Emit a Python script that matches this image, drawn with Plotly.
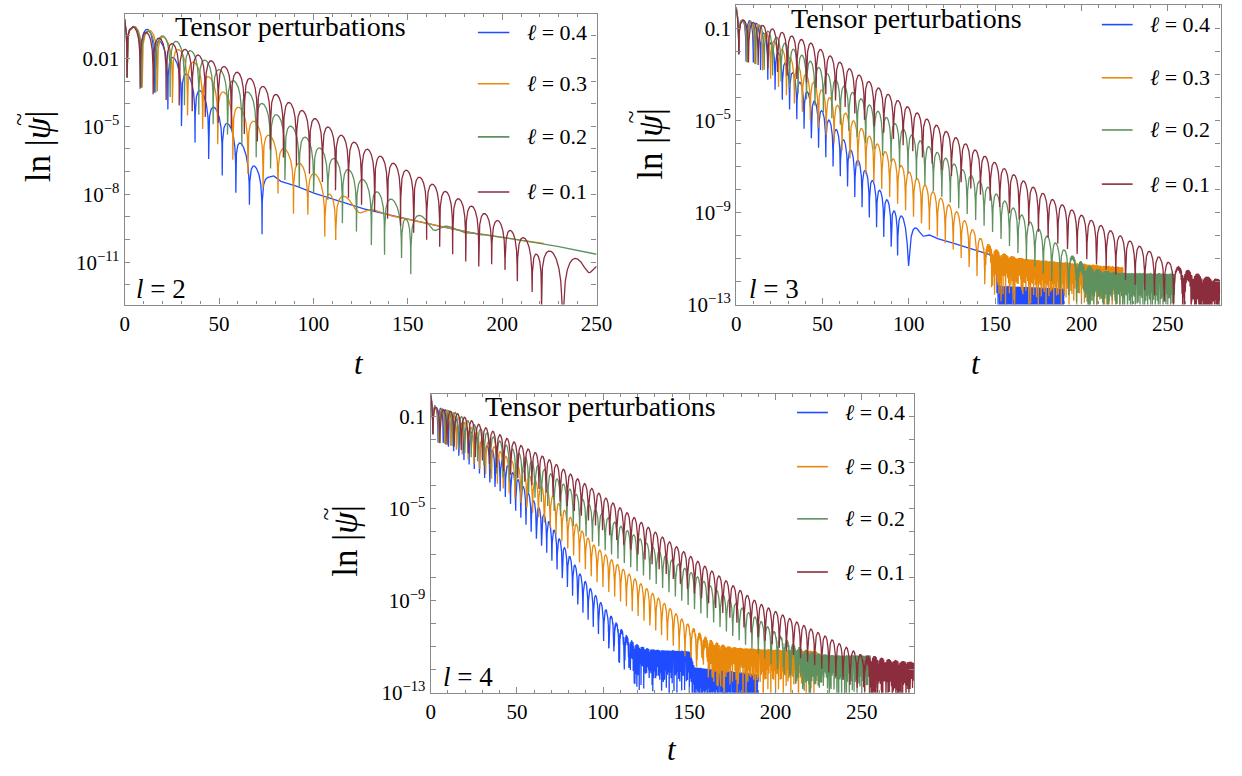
import numpy as np
import plotly.graph_objects as go

W, H = 1242, 776
DT = 0.05
NOISE_OMEGA = 38.83  # fast numerical-noise oscillation of the late-time tails

ELL_LABELS = ["0.4", "0.3", "0.2", "0.1"]
COLORS = ["#1f4cff", "#e8890c", "#5f915f", "#8b2d3d"]

# ---------------- panel l = 2 ----------------
A_T_END = [190, 222, 250, 250]
A_HALF_PERIOD = [7.2, 8.0, 7.6, 6.9]
A_FIRST_ZERO = [1.3, 1.3, 1.3, 1.3]
A_ENV_T = [[0, 3, 14, 46, 58, 67, 80, 190],
           [0, 3, 18, 39, 60, 88, 100, 130, 222],
           [0, 3, 26, 51, 93, 143, 175, 250],
           [0, 3, 30, 65, 100, 114, 166, 200, 221, 250]]
A_ENV_LOG = [[0.0, -0.55, -0.75, -4.0, -5.2, -6.5, -8.0, -18],
             [0.0, -0.55, -0.86, -2.32, -4.1, -6.25, -7.1, -9.4, -16],
             [0.0, -0.55, -1.16, -2.53, -5.3, -8.4, -10.4, -14],
             [0.0, -0.55, -1.52, -2.8, -4.6, -5.35, -7.68, -9.28, -10.58, -11.6]]
A_TAIL_T = [[0, 55, 79, 96, 122, 148, 183, 222, 249]] * 3 + [[0, 150, 200, 222, 249]]
A_TAIL_LOG = [[-20, -9.5, -7.25, -7.83, -8.55, -9.06, -9.71, -10.17, -10.65]] * 3 + \
             [[-20, -13, -10.6, -10.85, -11.2]]
A_NOISE_FROM = [None, None, None, None]
A_DIP_DEPTH = 2.6

# ---------------- panel l = 3 ----------------
B_T_END = [190, 224, 254, 280]
B_HALF_PERIOD = [4.2, 4.6, 4.9, 5.6]
B_FIRST_ZERO = [1.5, 1.5, 1.5, 1.5]
B_ENV_T = [[0, 3, 11, 34, 58.7, 77.6, 92.9, 115, 190],
           [0, 3, 12, 43, 89, 127, 140, 165, 224],
           [0, 3, 12, 43, 89, 146, 192, 215, 254],
           [0, 3, 12, 43, 89, 184, 241, 265, 285]]
B_ENV_LOG = [[0.0, -0.6, -0.67, -3.03, -5.45, -7.46, -9.0, -11.3, -19],
             [0.0, -0.6, -0.75, -3.17, -6.53, -8.89, -10.0, -12.0, -16],
             [0.0, -0.6, -0.75, -2.4, -4.96, -7.89, -10.75, -12.3, -15],
             [0.0, -0.6, -0.75, -1.6, -3.89, -8.46, -10.75, -11.8, -12.8]]
B_TAIL_T = [[0, 70, 93, 100, 146, 150, 153, 190],
            [0, 120, 146, 224],
            [0, 170, 194, 254],
            [0, 235, 258, 280]]
B_TAIL_LOG = [[-20, -12.5, -9.6, -9.73, -10.8, -11.0, -12.2, -12.3],
              [-20, -14, -10.9, -11.39],
              [-20, -14, -11.6, -11.67],
              [-20, -14, -11.96, -12.0]]
B_NOISE_FROM = [151, 0, 0, 0]
B_DIP_DEPTH = 1.8

# ---------------- panel l = 4 ----------------
C_T_END = [190, 224, 255, 280]
C_HALF_PERIOD = [3.0, 3.4, 3.7, 4.1]
C_FIRST_ZERO = [1.3, 1.3, 1.3, 1.3]
C_ENV_T = [[0, 3, 8, 42, 68.6, 87.6, 102.8, 125, 190],
           [0, 3, 12, 68.6, 95, 133, 150, 175, 224],
           [0, 3, 14, 68.6, 95, 152, 190, 215, 255],
           [0, 3, 14, 68.6, 95, 190, 228, 253, 280]]
C_ENV_LOG = [[0.0, -0.6, -0.65, -2.85, -5.54, -7.95, -9.5, -11.8, -18],
             [0.0, -0.6, -0.75, -4.26, -6.6, -8.94, -10.08, -11.8, -15],
             [0.0, -0.6, -0.8, -3.41, -5.0, -7.81, -9.8, -11.3, -14],
             [0.0, -0.6, -0.8, -2.85, -4.19, -9.09, -10.5, -11.5, -12.6]]
C_TAIL_T = [[0, 85, 104, 114, 150, 153, 190],
            [0, 130, 150, 224],
            [0, 175, 197, 255],
            [0, 235, 255, 280]]
C_TAIL_LOG = [[-20, -14, -10.6, -11.1, -11.2, -11.9, -12.2],
              [-20, -14, -11.0, -11.2],
              [-20, -14, -11.36, -11.4],
              [-20, -14, -11.7, -11.7]]
C_NOISE_FROM = [0, 0, 0, 0]
C_DIP_DEPTH = 1.5

# axis tick labels
X_TICKS = [0, 50, 100, 150, 200, 250]
A_Y_LABELLED = {-2: "0.01", -5: "10<sup>−5</sup>", -8: "10<sup>−8</sup>", -11: "10<sup>−11</sup>"}
BC_Y_LABELLED = {-1: "0.1", -5: "10<sup>−5</sup>", -9: "10<sup>−9</sup>", -13: "10<sup>−13</sup>"}


def build(t_end, half, t0, env_t, env_log, tail_t, tail_log, noise_from, depth):
    t = np.arange(0.0, t_end + DT / 2, DT)
    env = 10.0 ** np.interp(t, env_t, env_log)
    qnm = env * np.sin(np.pi * (t - t0) / half)
    tail = 10.0 ** np.interp(t, tail_t, tail_log)
    if noise_from is not None:
        s = np.where(t >= noise_from, np.sin(NOISE_OMEGA * t), 1.0)
    else:
        s = np.ones_like(t)
    y = np.abs(qnm + tail * s)
    y = np.maximum(y, env * 10.0 ** (-depth))
    y = np.maximum(y, 1e-15)
    return t, y


PANELS = [
    dict(x="x", y="y", T=A_T_END, P=A_HALF_PERIOD, Z=A_FIRST_ZERO, ET=A_ENV_T, EL=A_ENV_LOG,
         TT=A_TAIL_T, TL=A_TAIL_LOG, N=A_NOISE_FROM, D=A_DIP_DEPTH),
    dict(x="x2", y="y2", T=B_T_END, P=B_HALF_PERIOD, Z=B_FIRST_ZERO, ET=B_ENV_T, EL=B_ENV_LOG,
         TT=B_TAIL_T, TL=B_TAIL_LOG, N=B_NOISE_FROM, D=B_DIP_DEPTH),
    dict(x="x3", y="y3", T=C_T_END, P=C_HALF_PERIOD, Z=C_FIRST_ZERO, ET=C_ENV_T, EL=C_ENV_LOG,
         TT=C_TAIL_T, TL=C_TAIL_LOG, N=C_NOISE_FROM, D=C_DIP_DEPTH),
]

fig = go.Figure()
for p in PANELS:
    for i in range(4):
        t, y = build(p["T"][i], p["P"][i], p["Z"][i], p["ET"][i], p["EL"][i],
                     p["TT"][i], p["TL"][i], p["N"][i], p["D"])
        fig.add_trace(go.Scatter(x=t, y=y, mode="lines", xaxis=p["x"], yaxis=p["y"],
                                 line=dict(color=COLORS[i], width=1.3),
                                 showlegend=False, hoverinfo="skip"))

FRAME = "#8a8a8a"
FONT = "Liberation Serif, DejaVu Serif, serif"


def xax(domain, rng, anchor):
    return dict(domain=domain, range=rng, anchor=anchor, showline=True, linecolor=FRAME,
                linewidth=1.2, mirror="allticks", ticks="inside", ticklen=6, tickcolor=FRAME,
                tickvals=X_TICKS, ticktext=[str(v) for v in X_TICKS],
                minor=dict(dtick=10, ticks="inside", ticklen=3, tickcolor=FRAME),
                showgrid=False, zeroline=False,
                tickfont=dict(family=FONT, size=21, color="black"))


def yax(domain, rng, labelled, anchor):
    vals = [10.0 ** k for k in range(-13, 1)]
    txt = [labelled.get(k, "") for k in range(-13, 1)]
    return dict(type="log", domain=domain, range=rng, anchor=anchor, showline=True,
                linecolor=FRAME, linewidth=1.2, mirror="allticks", ticks="inside",
                ticklen=5, tickcolor=FRAME, tickvals=vals, ticktext=txt,
                showgrid=False, zeroline=False,
                tickfont=dict(family=FONT, size=21, color="black"))


def px(xp):
    return xp / W


def py(yp):
    return 1 - yp / H


fig.update_layout(
    width=W, height=H, margin=dict(l=0, r=0, t=0, b=0),
    paper_bgcolor="white", plot_bgcolor="white", showlegend=False,
    xaxis=xax([px(121.7), px(601.7)], [0, 250], "y"),
    yaxis=yax([py(309.3), py(14)], [-12.87, -0.03], A_Y_LABELLED, "x"),
    xaxis2=xax([px(743.8), px(1236.5)], [0, 280.6], "y2"),
    yaxis2=yax([py(309.3), py(5.3)], [-13, 0.03], BC_Y_LABELLED, "x2"),
    xaxis3=xax([px(433), px(925)], [0, 280.5], "y3"),
    yaxis3=yax([py(703.7), py(400)], [-13, 0], BC_Y_LABELLED, "x3"),
)

ann = []
shapes = []


def note(x, y, text, size, xanchor="center", angle=0):
    ann.append(dict(x=px(x), y=py(y), xref="paper", yref="paper", showarrow=False,
                    xanchor=xanchor, yanchor="middle", text=text, textangle=angle,
                    font=dict(family=FONT, size=size, color="black")))


# y titles (tilde drawn as its own rotated glyph over psi)
for (cx, cy, tx, ty) in [(34, 148, 14, 121), (657, 146, 637, 119), (346, 549, 326, 522)]:
    note(cx, cy, "ln |<i>ψ</i>|", 35, angle=-90)
    note(tx, ty, "~", 24, angle=-90)
# x titles
for (cx, cy) in [(360, 369), (988, 369), (678, 761)]:
    note(cx, cy, "<i>t</i>", 31)
# panel titles
for (cx, cy) in [(290, 27), (917, 19), (606, 413)]:
    note(cx, cy, "Tensor perturbations", 28)
# l = n labels
for (lx, ly, n) in [(131, 294, 2), (755, 294, 3), (443, 688, 4)]:
    note(lx, ly, f"<i>l</i> = {n}", 27, xanchor="left")
# legends
LEG = [((481, 513, 529), [33, 85, 139, 195]),
       ((1115.7, 1147, 1162.7), [25, 79, 132, 187]),
       ((805.7, 837, 852.7), [419, 474, 527, 581])]
for (x0, x1, xt), rows in LEG:
    for i, ry in enumerate(rows):
        shapes.append(dict(type="line", xref="paper", yref="paper", x0=px(x0), x1=px(x1),
                           y0=py(ry), y1=py(ry), line=dict(color=COLORS[i], width=1.6)))
        note(xt, ry, f"<i>ℓ</i> = {ELL_LABELS[i]}", 22, xanchor="left")

fig.update_layout(annotations=ann, shapes=shapes)
fig.write_html("out.html")
